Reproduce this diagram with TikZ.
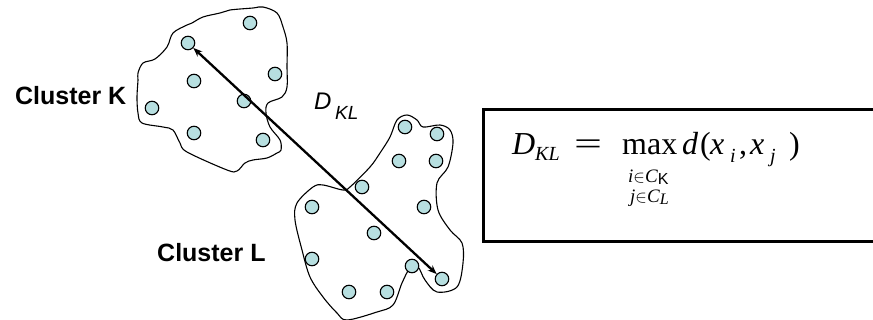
\documentclass[tikz,border=0pt]{standalone}
\usepackage{fontspec}
\usetikzlibrary{arrows.meta}
\setmainfont{Liberation Sans}
\newfontfamily\tms{Liberation Serif}
\definecolor{dotfill}{RGB}{183,223,224}
\begin{document}
\begin{tikzpicture}[x=1pt,y=-1pt,
  pt/.style={circle,draw=black,line width=1.1pt,fill=dotfill,minimum size=13.5pt,inner sep=0pt},
  outline/.style={draw=black,line width=1.1pt},
  lbl/.style={inner sep=0pt,anchor=base west,font=\fontsize{25}{25}\selectfont\bfseries},
  fm/.style={inner sep=0pt,anchor=base west,font=\tms\fontsize{32}{32}\selectfont},
  fmi/.style={inner sep=0pt,anchor=base west,font=\tms\fontsize{32}{32}\selectfont\itshape},
  fs/.style={inner sep=0pt,anchor=base west,font=\tms\fontsize{20}{20}\selectfont\itshape},
  fu/.style={inner sep=0pt,anchor=base west,font=\tms\fontsize{19}{19}\selectfont}]
\useasboundingbox (0,0) rectangle (873,320);
\clip (0,0) rectangle (873,320);
\fill[white] (0,0) rectangle (873,320);
% cluster K outline
\path[outline] plot[smooth cycle,tension=0.55] coordinates {
 (173,33) (187,25) (192,23) (203,17) (220,13) (230,10) (253,8) (263,7) (277,13)
 (283,27) (287,43) (287,67) (287,87) (282,97) (268,103) (266,113) (270,127)
 (280,140) (281,150) (277,153) (267,158) (253,160) (245,163) (237,171) (227,170)
 (187,152) (180,143) (173,130) (163,127) (142,123) (138,113) (137,97) (138,80)
 (138,73) (143,63) (155,59) (167,47)};
% cluster L outline
\path[outline] plot[smooth cycle,tension=0.55] coordinates {
 (407,115) (417,120) (423,127) (440,125) (450,130) (453,143) (448,167) (437,183)
 (438,210) (450,230) (462,243) (463,263) (457,287) (437,292) (425,280) (418,267)
 (410,268) (402,283) (393,305) (377,312) (347,320) (337,313) (323,297) (310,277)
 (302,250) (295,220) (297,203) (313,187) (323,185) (343,190) (350,187) (370,167)
 (380,153) (390,137) (397,120)};
% cluster K points
\node[pt] (k1) at (250,23) {};
\node[pt] (k2) at (188,43) {};
\node[pt] (k3) at (275,74) {};
\node[pt] (k4) at (194,81) {};
\node[pt] (k5) at (152,108) {};
\node[pt] (k6) at (244,101) {};
\node[pt] (k7) at (194,133) {};
\node[pt] (k8) at (263,140) {};
% cluster L points
\node[pt] (l1) at (405,127) {};
\node[pt] (l2) at (437,134) {};
\node[pt] (l3) at (399,161) {};
\node[pt] (l4) at (436,161) {};
\node[pt] (l5) at (362,187) {};
\node[pt] (l6) at (312,207) {};
\node[pt] (l7) at (424,207) {};
\node[pt] (l8) at (374,233) {};
\node[pt] (l9) at (312,259) {};
\node[pt] (l10) at (412,266) {};
\node[pt] (l11) at (442,279) {};
\node[pt] (l12) at (349,292) {};
\node[pt] (l13) at (387,292) {};
% diameter arrow
\draw[line width=2.3pt,{Stealth[length=9pt,width=7pt]}-{Stealth[length=9pt,width=7pt]}] (k2) -- (l11);
% labels
\node[lbl] (labK) at (15,105) {Cluster K};
\node[lbl] (labL) at (157,262) {Cluster L};
\node[inner sep=0pt,anchor=base west,font=\fontsize{24}{24}\selectfont\itshape] (dkl) at (314,110) {D};
\node[inner sep=0pt,anchor=base west,font=\fontsize{19}{19}\selectfont\itshape] (dklsub) at (335,120) {KL};
% formula box
\draw[line width=3pt,fill=white] (483,110) rectangle (890,242);
\node[fmi] (fD) at (512,155) {D};
\node[fs] (fKL) at (535,161) {KL};
\node[fm] (feq) at (574,155) {\scalebox{1.55}[1]{=}};
\node[fm] (fmax) at (622,155) {max};
\node[fmi] (fd) at (682,155) {d};
\node[fm] (fp1) at (700,155) {(};
\node[fmi] (fx1) at (710,155) {x};
\node[fs] (fi) at (730,163) {i};
\node[fm] (fc) at (739,155) {,};
\node[fmi] (fx2) at (750,155) {x};
\node[fs] (fj) at (770,163) {j};
\node[fm] (fp2) at (789,155) {)};
\node[fu] (sub1) at (628,183) {\textit{i}$\in$\textit{C}\raisebox{-2pt}{\fontspec{Liberation Sans}\fontsize{16}{16}\selectfont K}};
\node[fu] (sub2) at (630,203) {\textit{j}$\in$\textit{C}\raisebox{-2pt}{\fontsize{16}{16}\selectfont\itshape L}};
\end{tikzpicture}
\end{document}
